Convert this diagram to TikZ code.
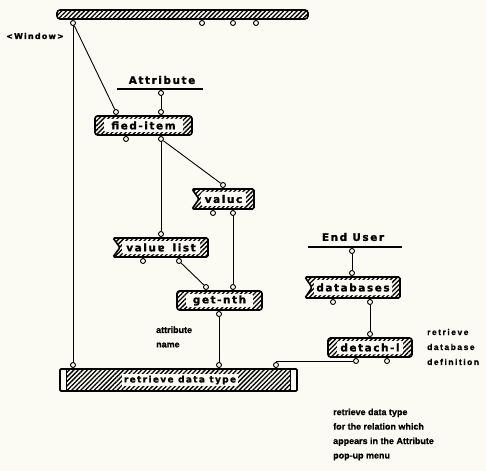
\documentclass[tikz,border=0pt]{standalone}
\usepackage{fontspec}
\setmainfont{DejaVu Sans}
\newfontfamily\boxfont[LetterSpace=15,BoldFeatures={FakeBold=1.2}]{DejaVu Sans}
\newfontfamily\notefont[BoldFeatures={FakeBold=0.8}]{Liberation Sans}
\newfontfamily\notewide[LetterSpace=18,BoldFeatures={FakeBold=0.8}]{Liberation Sans}
\usetikzlibrary{patterns.meta}

\definecolor{paper}{RGB}{251,250,243}

\tikzset{
  hatch/.style={pattern={Lines[angle=45,distance=3.2bp,line width=1.3bp]}},
  outline/.style={line width=1.6bp},
  conn/.style={line width=0.9bp},
  port/.style={circle,draw,fill=paper,inner sep=0pt,minimum size=5bp,line width=0.9bp},
  labtext/.style={inner sep=0pt,font=\boxfont\bfseries\fontsize{10.5}{12}\selectfont},
  bartext/.style={fill=paper,inner sep=2bp,font=\boxfont\bfseries\fontsize{9}{11}\selectfont},
  note/.style={inner sep=0pt,align=left,anchor=west,font=\notefont\bfseries\fontsize{9}{14.5}\selectfont},
  widenote/.style={inner sep=0pt,align=left,anchor=west,font=\notewide\bfseries\fontsize{8.5}{15}\selectfont}
}

% port below a lower edge / above an upper edge: name, x, edge y
\newcommand\portS[3]{\node[port] (#1) at ({#2},{#3+4}) {}; \draw[conn] ({#2},{#3}) -- (#1);}
\newcommand\portN[3]{\node[port] (#1) at ({#2},{#3-4}) {}; \draw[conn] ({#2},{#3}) -- (#1);}

% operator box: hatched rounded box with a plain label field
\newcommand\opbox[6]{%
  \draw[outline,hatch,rounded corners=2.5bp] (#2,#3) rectangle (#4,#5);
  \fill[paper,rounded corners=2bp] ({#2+9},{#3+3}) rectangle ({#4-9},{#5-3});
  \node[labtext] (#1) at ({(#2+#4)/2},{(#3+#5)/2}) {#6};}

% flag box: notched left end, hatched right end
\newcommand\flagbox[6]{%
  \draw[outline,hatch,rounded corners=1.5bp] (#2,#3) -- (#4,#3) -- (#4,#5) -- (#2,#5) -- ({#2+7},{(#3+#5)/2}) -- cycle;
  \fill[paper,rounded corners=2bp] ({#2+9},{#3+3}) rectangle ({#4-8},{#5-3});
  \node[labtext] (#1) at ({(#2+#4)/2+0.5},{(#3+#5)/2}) {#6};}

\begin{document}
\begin{tikzpicture}[x=1bp,y=-1bp]
  \fill[paper] (0,0) rectangle (486,471);
  \useasboundingbox (0,0) rectangle (486,471);

  % window bar
  \draw[outline,hatch,rounded corners=3bp] (57,10) rectangle (308,19);
  \node[inner sep=0pt,font=\boxfont\bfseries\fontsize{8}{10}\selectfont] (winlab) at (35,36) {<Window>};

  % source labels
  \node[labtext] (attr) at (162,80) {Attribute};
  \draw[outline] (117,89) -- (203,89);
  \node[labtext] (enduser) at (353,237) {End User};
  \draw[outline] (308,247) -- (402,247);

  % operators
  \opbox{fied}{95}{116}{192}{135}{fied-item}
  \flagbox{valuc}{192}{189}{254}{209}{valuc}
  \flagbox{vlist}{113}{238}{208}{257}{valuɐ\hspace{8bp}list}
  \opbox{getnth}{177}{291}{262}{310}{get-nth}
  \flagbox{dbs}{305}{277}{400}{298}{databases}
  \opbox{detach}{328}{338}{412}{357}{detach-l}

  % retrieve bar
  \draw[outline,fill=paper,rounded corners=1bp] (60,369) rectangle (297,391);
  \fill[hatch] (66,369) rectangle (290,391);
  \draw[line width=1bp] (66,369) -- (66,391) (290,369) -- (290,391);
  \node[bartext] (rdt) at (180,380) {retrieve data type};

  % ports
  \portS{w1}{73}{19} \portS{w2}{202}{19} \portS{w3}{233}{19} \portS{w4}{256}{19}
  \portS{ap}{161}{89}
  \portS{ep}{352}{247}
  \portN{f1}{116}{116} \portN{f2}{161}{116}
  \portS{f3}{126}{135} \portS{f4}{161}{135}
  \portN{v1}{223}{189}
  \portS{v2}{213}{209} \portS{v3}{233}{209}
  \portN{l1}{161}{238}
  \portS{l2}{143}{257} \portS{l3}{179}{257}
  \portN{g1}{206}{291} \portN{g2}{233}{291}
  \portS{g3}{219}{310}
  \portN{d1}{352}{277}
  \portS{d2}{333}{298} \portS{d3}{370}{298}
  \portN{e1}{370}{338}
  \portS{e2}{356}{357} \portS{e3}{387}{357}
  \portN{r1}{73}{369} \portN{r2}{219}{369} \portN{r3}{276}{369}

  % connectors
  \draw[conn] (w1) -- (r1);
  \draw[conn] (w1) -- (f1);
  \draw[conn] (ap) -- (f2);
  \draw[conn] (f4) -- (l1);
  \draw[conn] (f4) -- (v1);
  \draw[conn] (v3) -- (g2);
  \draw[conn] (l3) -- (g1);
  \draw[conn] (g3) -- (r2);
  \draw[conn] (ep) -- (d1);
  \draw[conn] (d3) -- (e1);
  \draw[conn] (r3) |- (e2);

  % notes
  \node[note] (aname) at (156,337) {attribute\\name};
  \node[widenote] (dbdef) at (427,347) {retrieve\\database\\definition};
  \node[note] (rnote) at (333,434.5) {retrieve data type\\for the relation which\\appears in the Attribute\\pop-up menu};
\end{tikzpicture}
\end{document}
